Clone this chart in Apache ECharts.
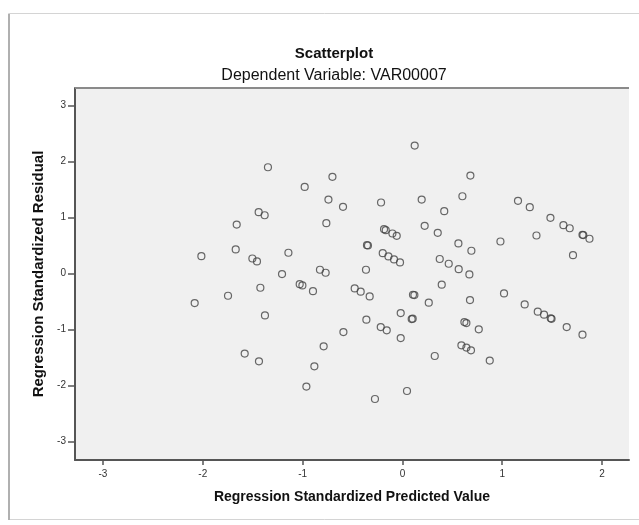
<!DOCTYPE html>
<html>
<head>
<meta charset="utf-8">
<script src="https://cdn.jsdelivr.net/npm/echarts@6/dist/echarts.min.js"></script>
<style>html,body{margin:0;padding:0;background:#fff;}#c{width:639px;height:525px;}</style>
</head>
<body>
<div id="c"></div>
<script>
const predicted = [0.123,-1.347,-0.701,-0.979,-0.741,-0.595,-0.214,0.193,0.419,-1.440,-1.380,-0.762,0.223,0.354,-0.184,-0.167,-0.100,-0.057,-1.142,-0.355,-0.345,-0.197,-0.140,-0.084,-0.024,0.374,0.464,-1.206,-0.826,-0.769,-0.365,0.681,0.601,1.158,1.276,1.483,1.613,1.676,1.804,1.812,1.874,1.343,0.982,1.709,0.561,0.691,0.564,0.671,-1.660,-2.014,-1.670,-1.503,-1.457,-2.081,-1.747,-1.580,-1.437,-1.423,-1.029,-1.002,-0.896,-0.478,-0.418,-0.328,0.394,0.106,0.120,0.264,-1.377,-0.017,0.093,0.103,-0.361,-0.217,-0.157,-0.591,-0.017,-0.789,-0.882,0.324,-0.962,0.046,-0.275,1.018,1.225,1.356,1.419,1.486,1.494,1.646,1.804,0.677,0.621,0.641,0.765,0.591,0.641,0.687,0.875];
const residual = [2.282,1.895,1.724,1.545,1.319,1.189,1.266,1.319,1.111,1.093,1.039,0.897,0.850,0.725,0.790,0.772,0.713,0.672,0.369,0.504,0.499,0.362,0.303,0.250,0.196,0.258,0.173,-0.012,0.066,0.012,0.066,1.747,1.378,1.296,1.182,0.993,0.861,0.807,0.690,0.684,0.619,0.677,0.570,0.326,0.535,0.405,0.077,-0.018,0.873,0.308,0.428,0.267,0.214,-0.529,-0.398,-1.431,-1.569,-0.255,-0.191,-0.214,-0.316,-0.267,-0.326,-0.410,-0.201,-0.380,-0.387,-0.522,-0.749,-0.708,-0.815,-0.808,-0.825,-0.957,-1.016,-1.046,-1.153,-1.301,-1.658,-1.474,-2.020,-2.098,-2.241,-0.357,-0.553,-0.683,-0.736,-0.802,-0.810,-0.957,-1.093,-0.476,-0.868,-0.886,-0.998,-1.283,-1.324,-1.373,-1.556];
const xTicks = [-3,-2,-1,0,1,2];
const yTicks = [-3,-2,-1,0,1,2,3];

const points = predicted.map((v,i)=>[v,residual[i]]);
const chart = echarts.init(document.getElementById('c'));
const font = 'Liberation Sans, Arial, sans-serif';
chart.setOption({
  animation:false,
  backgroundColor:'#ffffff',
  graphic:[
    {type:'rect',shape:{x:8.5,y:13.5,width:640,height:506},style:{fill:'none',stroke:'#d4d4d4',lineWidth:1}},
    {type:'line',shape:{x1:9,y1:14,x2:9,y2:520},style:{stroke:'#b0b0b0',lineWidth:2}},
    {type:'line',shape:{x1:75,y1:88,x2:629,y2:88},style:{stroke:'#8a8a8a',lineWidth:2},z:10}
  ],
  title:[
    {text:'Scatterplot',left:329,top:41,textAlign:'center',textStyle:{fontFamily:font,fontSize:15,fontWeight:'bold',color:'#111'}},
    {text:'Dependent Variable: VAR00007',left:329,top:63,textAlign:'center',textStyle:{fontFamily:font,fontSize:16,fontWeight:'normal',color:'#111'}}
  ],
  grid:{left:75,right:10,top:88,bottom:65,show:true,backgroundColor:'#f0f0f0',borderWidth:0},
  xAxis:{
    type:'value',min:-3.28,max:2.27,
    name:'Regression Standardized Predicted Value',nameLocation:'middle',nameGap:30,
    nameTextStyle:{fontFamily:font,fontSize:14,fontWeight:'bold',color:'#111'},
    axisLine:{show:true,onZero:false,lineStyle:{color:'#555',width:2}},
    axisTick:{show:true,length:5,customValues:xTicks,lineStyle:{color:'#555',width:1.5}},
    axisLabel:{customValues:xTicks,fontFamily:font,fontSize:10,color:'#333',margin:9},
    splitLine:{show:false}
  },
  yAxis:{
    type:'value',min:-3.33,max:3.31,
    name:'Regression Standardized Residual',nameLocation:'middle',nameGap:27,
    nameTextStyle:{fontFamily:font,fontSize:15,fontWeight:'bold',color:'#111'},
    axisLine:{show:true,onZero:false,lineStyle:{color:'#555',width:2}},
    axisTick:{show:true,length:7,customValues:yTicks,lineStyle:{color:'#555',width:1.5}},
    axisLabel:{customValues:yTicks,fontFamily:font,fontSize:10,color:'#333',margin:9},
    splitLine:{show:false}
  },
  series:[{
    type:'scatter',data:points,symbol:'circle',symbolSize:7,
    itemStyle:{color:'rgba(0,0,0,0)',borderColor:'#444',borderWidth:1.2}
  }]
});
</script>
</body>
</html>
